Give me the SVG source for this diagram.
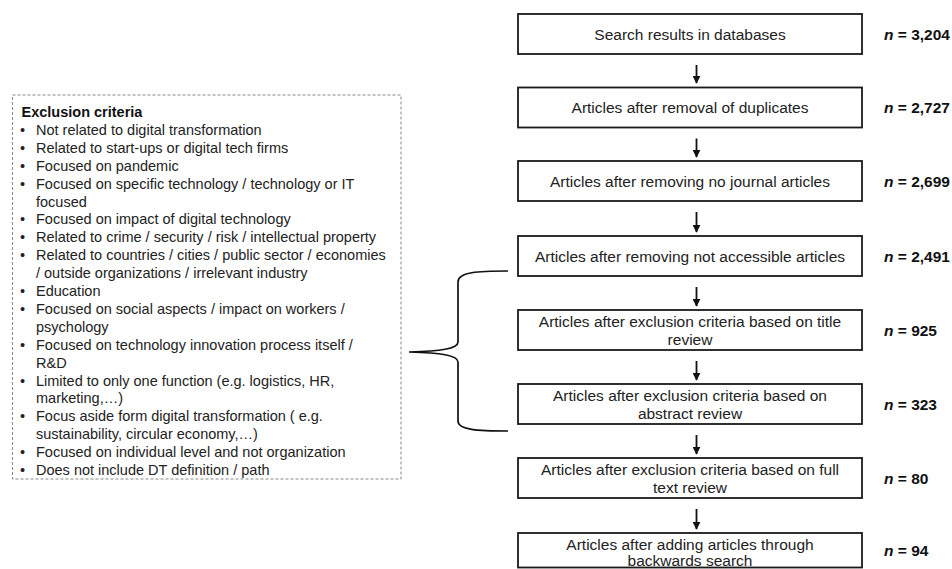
<svg xmlns="http://www.w3.org/2000/svg" width="952" height="569" viewBox="0 0 952 569">
<style>
.box{fill:#fff;stroke:#1a1a1a;stroke-width:1.8}
.bt{font-family:"Liberation Sans",Arial,sans-serif;font-size:15.5px;fill:#222;text-anchor:middle}
.nl{font-family:"Liberation Sans",Arial,sans-serif;font-size:15.5px;font-weight:bold;fill:#111}
.lt{font-family:"Liberation Sans",Arial,sans-serif;font-size:14.5px;fill:#222}
.ttl{font-weight:bold;fill:#111}
.arr{stroke:#111;stroke-width:1.8;fill:none}
</style>
<defs>
<marker id="ah" viewBox="0 0 10 10" refX="9" refY="5" markerWidth="8" markerHeight="8" orient="auto" markerUnits="userSpaceOnUse">
<path d="M0,0 L10,5 L0,10 z" fill="#111"/>
</marker>
</defs>
<rect width="952" height="569" fill="#fff"/>
<g id="criteria">
<rect x="12.5" y="95" width="388.5" height="384" fill="none" stroke="#888" stroke-width="1" stroke-dasharray="3,2"/>
<text class="lt ttl" x="21.5" y="117">Exclusion criteria</text>
<g class="lt">
<text x="20" y="134.9">•</text><text x="36" y="134.9">Not related to digital transformation</text>
<text x="20" y="152.8">•</text><text x="36" y="152.8">Related to start-ups or digital tech firms</text>
<text x="20" y="170.7">•</text><text x="36" y="170.7">Focused on pandemic</text>
<text x="20" y="188.6">•</text><text x="36" y="188.6">Focused on specific technology / technology or IT</text>
<text x="36" y="206.5">focused</text>
<text x="20" y="224.4">•</text><text x="36" y="224.4">Focused on impact of digital technology</text>
<text x="20" y="242.3">•</text><text x="36" y="242.3">Related to crime / security / risk / intellectual property</text>
<text x="20" y="260.2">•</text><text x="36" y="260.2">Related to countries / cities / public sector / economies</text>
<text x="36" y="278.1">/ outside organizations / irrelevant industry</text>
<text x="20" y="296">•</text><text x="36" y="296">Education</text>
<text x="20" y="313.9">•</text><text x="36" y="313.9">Focused on social aspects / impact on workers /</text>
<text x="36" y="331.8">psychology</text>
<text x="20" y="349.7">•</text><text x="36" y="349.7">Focused on technology innovation process itself /</text>
<text x="36" y="367.6">R&amp;D</text>
<text x="20" y="385.5">•</text><text x="36" y="385.5">Limited to only one function (e.g. logistics, HR,</text>
<text x="36" y="403.4">marketing,…)</text>
<text x="20" y="421.3">•</text><text x="36" y="421.3">Focus aside form digital transformation ( e.g.</text>
<text x="36" y="439.2">sustainability, circular economy,…)</text>
<text x="20" y="457.1">•</text><text x="36" y="457.1">Focused on individual level and not organization</text>
<text x="20" y="475">•</text><text x="36" y="475">Does not include DT definition / path</text>
</g>
</g>
<g id="n1"><rect class="box" x="518" y="14" width="344" height="40"/><text class="bt" x="690" y="39.5">Search results in databases</text></g>
<g id="n2"><rect class="box" x="518" y="87.5" width="344" height="40"/><text class="bt" x="690" y="113">Articles after removal of duplicates</text></g>
<g id="n3"><rect class="box" x="518" y="161" width="344" height="40"/><text class="bt" x="690" y="186.5">Articles after removing no journal articles</text></g>
<g id="n4"><rect class="box" x="518" y="236" width="344" height="40"/><text class="bt" x="690" y="261.5">Articles after removing not accessible articles</text></g>
<g id="n5"><rect class="box" x="518" y="310" width="344" height="40"/><text class="bt" x="690" y="327">Articles after exclusion criteria based on title</text><text class="bt" x="690" y="344.5">review</text></g>
<g id="n6"><rect class="box" x="518" y="384" width="344" height="40"/><text class="bt" x="690" y="401">Articles after exclusion criteria based on</text><text class="bt" x="690" y="418.5">abstract review</text></g>
<g id="n7"><rect class="box" x="518" y="458" width="344" height="40"/><text class="bt" x="690" y="475">Articles after exclusion criteria based on full</text><text class="bt" x="690" y="492.5">text review</text></g>
<g id="n8"><rect class="box" x="518" y="533" width="344" height="34.5"/><text class="bt" x="690" y="550">Articles after adding articles through</text><text class="bt" x="690" y="566">backwards search</text></g>
<g id="labels">
<text class="nl" x="884" y="39.5"><tspan font-style="italic">n</tspan> = 3,204</text>
<text class="nl" x="884" y="113"><tspan font-style="italic">n</tspan> = 2,727</text>
<text class="nl" x="884" y="186.5"><tspan font-style="italic">n</tspan> = 2,699</text>
<text class="nl" x="884" y="261.5"><tspan font-style="italic">n</tspan> = 2,491</text>
<text class="nl" x="884" y="335.5"><tspan font-style="italic">n</tspan> = 925</text>
<text class="nl" x="884" y="409.5"><tspan font-style="italic">n</tspan> = 323</text>
<text class="nl" x="884" y="483.5"><tspan font-style="italic">n</tspan> = 80</text>
<text class="nl" x="884" y="555.5"><tspan font-style="italic">n</tspan> = 94</text>
</g>
<g id="connectors">
<line class="arr" x1="696.5" y1="65" x2="696.5" y2="83" marker-end="url(#ah)"/>
<line class="arr" x1="696.5" y1="138.5" x2="696.5" y2="157" marker-end="url(#ah)"/>
<line class="arr" x1="696.5" y1="212" x2="696.5" y2="232" marker-end="url(#ah)"/>
<line class="arr" x1="696.5" y1="287" x2="696.5" y2="306" marker-end="url(#ah)"/>
<line class="arr" x1="696.5" y1="361" x2="696.5" y2="380" marker-end="url(#ah)"/>
<line class="arr" x1="696.5" y1="435" x2="696.5" y2="454" marker-end="url(#ah)"/>
<line class="arr" x1="696.5" y1="509" x2="696.5" y2="529" marker-end="url(#ah)"/>
<path d="M508,271 C478,271 458,272 458,282 L458,342 C458,349 440,351 409,352 C440,353 458,355 458,362 L458,421 C458,430 478,431 508,431" fill="none" stroke="#111" stroke-width="1.7"/>
</g>
</svg>
